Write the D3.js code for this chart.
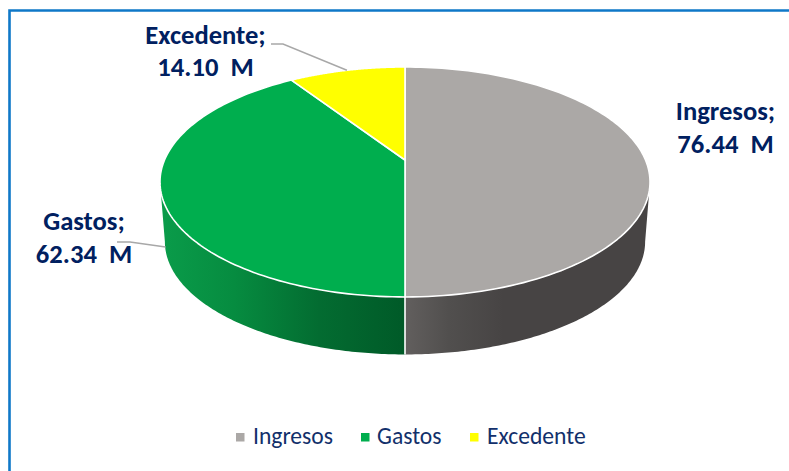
<!DOCTYPE html>
<html><head><meta charset="utf-8">
<style>html,body{margin:0;padding:0;background:#fff}svg{display:block}text{white-space:pre}</style>
<script src="https://cdn.jsdelivr.net/npm/d3@7"></script></head>
<body><div id="chart"></div>
<script>
const categories = ["Ingresos", "Gastos", "Excedente"];
const values = [76.44, 62.34, 14.10];
const topColors = ["#aba8a6", "#00ae4e", "#ffff00"];
const wallStops = [
  [[0, "#474444"], [0.6, "#474444"], [0.82, "#514f4e"], [1, "#625f5e"]],
  [[0, "#0a9c4a"], [0.3, "#068c40"], [0.65, "#036c31"], [1, "#005a28"]],
  [[0, "#b0b000"], [1, "#b0b000"]]
];
const labelColor = "#002060", legendColor = "#12306b", leaderColor = "#a8a8a8", frameColor = "#0f78c8";

const W = 789, H = 471;
const svg = d3.select("#chart").append("svg").attr("width", W).attr("height", H);
const defs = svg.append("defs");

// Perspective disc: a circle seen from above projects to an off-centre ellipse.
const persp = 0.191;
const topPlane = {cx: 405, cy: 160, a: 240.5, b: 110.8};
const basePlane = {cx: 405, cy: 220.2, a: 235.7, b: 108.6};
function project(plane, theta) {
  const u = Math.sin(theta), v = Math.cos(theta), d = 1 + persp * v;
  return [plane.cx + plane.a * u / d, plane.cy - plane.b * v / d];
}
const pie = d3.pie().sort(null).value(d => d)(values);
const line = d3.line();
const sample = (a, b) => d3.range(0, 121).map(i => a + (b - a) * i / 120);

// Only the front of the rim is visible: between the two silhouette tangents.
const visFrom = Math.acos(-persp), visTo = 2 * Math.PI - visFrom;

wallStops.forEach((stops, i) => {
  const g = defs.append("linearGradient").attr("id", "wall" + i)
    .attr("gradientUnits", "userSpaceOnUse")
    .attr("x1", i === 0 ? 650 : 160).attr("x2", 405).attr("y1", 0).attr("y2", 0);
  stops.forEach(s => g.append("stop").attr("offset", s[0]).attr("stop-color", s[1]));
});
const visibleWalls = pie.map((d, i) => ({i, a: Math.max(d.startAngle, visFrom), b: Math.min(d.endAngle, visTo)}))
  .filter(w => w.b > w.a);
svg.append("g").selectAll("path").data(visibleWalls).join("path")
  .attr("d", w => {
    const th = sample(w.a, w.b);
    return line(th.map(t => project(topPlane, t)).concat(th.slice().reverse().map(t => project(basePlane, t)))) + "Z";
  })
  .attr("fill", w => `url(#wall${w.i})`);

// Wall divider at the front seam (boundary between first and second slice)
const seam = pie[0].endAngle;
svg.append("path").attr("d", line([project(topPlane, seam), project(basePlane, seam)]))
  .attr("stroke", "#fff").attr("stroke-width", 1.6).attr("fill", "none");

// Top faces
svg.append("g").selectAll("path").data(pie).join("path")
  .attr("d", d => line([[topPlane.cx, topPlane.cy]].concat(sample(d.startAngle, d.endAngle).map(t => project(topPlane, t)))) + "Z")
  .attr("fill", (d, i) => topColors[i])
  .attr("stroke", "#fff").attr("stroke-width", 1.6).attr("stroke-linejoin", "round");

// Frame (top and left only are visible)
svg.append("path").attr("d", "M9.5,471V10.5H789").attr("fill", "none")
  .attr("stroke", frameColor).attr("stroke-width", 2.6);

// Leader lines end on the slice they annotate
const mid = d => (d.startAngle + d.endAngle) / 2;
const excAnchor = project(topPlane, mid(pie[2]));
const gasTop = project(topPlane, mid(pie[1])), gasBase = project(basePlane, mid(pie[1]));
const gasAnchor = [gasTop[0] + (gasBase[0] - gasTop[0]) * 0.9, gasTop[1] + (gasBase[1] - gasTop[1]) * 0.9];
const leaders = [
  [[271, 44], [283, 44], excAnchor],
  [[117, 242], [130, 242], gasAnchor]
];
svg.append("g").selectAll("path").data(leaders).join("path")
  .attr("d", d => line(d)).attr("fill", "none")
  .attr("stroke", leaderColor).attr("stroke-width", 1.5);

// Data labels
const labelPos = [[725.5, 120, 152.7], [84, 230, 262.7], [205.5, 44, 76]];
const lg = svg.append("g").attr("font-family", "Carlito, Lato, sans-serif").attr("font-weight", 700)
  .attr("font-size", 26.6).attr("fill", labelColor).attr("text-anchor", "middle");
categories.forEach((c, i) => {
  const p = labelPos[i];
  lg.append("text").attr("x", p[0]).attr("y", p[1]).text(c + ";");
  lg.append("text").attr("x", p[0]).attr("y", p[2]).text(d3.format(".2f")(values[i]) + "  M");
});

// Legend
const legendSwatchX = [236, 361, 470], legendTextX = [253, 377, 487];
const leg = svg.append("g").selectAll("g").data(categories).join("g");
leg.append("rect").attr("x", (d, i) => legendSwatchX[i]).attr("y", 433).attr("width", 8.5).attr("height", 8.5)
  .attr("fill", (d, i) => topColors[i]);
leg.append("text").attr("x", (d, i) => legendTextX[i]).attr("y", 443.5)
  .attr("font-family", "Carlito, Lato, sans-serif").attr("font-size", 23.6).attr("fill", legendColor).text(d => d);
</script></body></html>
